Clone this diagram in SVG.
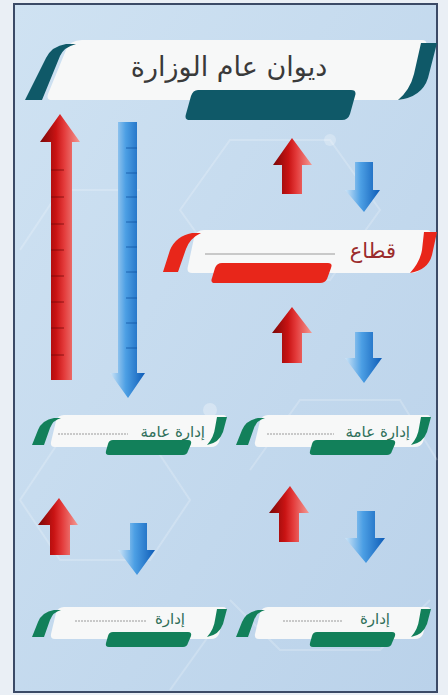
<svg xmlns="http://www.w3.org/2000/svg" xmlns:xlink="http://www.w3.org/1999/xlink" width="448" height="695" viewBox="0 0 448 695">
<style>
.ar{font-family:"DejaVu Sans",sans-serif;}
.title{font-size:27px;fill:#3a3a3a;}
.sec{font-size:21px;fill:#9b2c2c;}
.gtx{font-size:15px;fill:#2f6f5a;}
.wh{fill:#f7f8f8;}
.teal{fill:#0f5968;}
.red{fill:#e8261a;}
.grn{fill:#12805a;}
.hex{fill:none;stroke:#ffffff;stroke-opacity:0.2;stroke-width:2;}
.tickR{stroke:#6a0606;stroke-width:1;stroke-opacity:0.7;}
.tickB{stroke:#0b4f9c;stroke-width:1;stroke-opacity:0.7;}
.dash{stroke:#9a9a9a;stroke-width:1;stroke-dasharray:2 1;}
</style>
<defs>
<linearGradient id="gRed" x1="0" y1="0" x2="1" y2="0">
<stop offset="0" stop-color="#7a0707"/>
<stop offset="0.4" stop-color="#c91313"/>
<stop offset="0.6" stop-color="#e33a3a"/>
<stop offset="1" stop-color="#f39a94"/>
</linearGradient>
<linearGradient id="gBlue" x1="0" y1="0" x2="1" y2="0">
<stop offset="0" stop-color="#cfe5f7"/>
<stop offset="0.45" stop-color="#4c9fe4"/>
<stop offset="1" stop-color="#0e5cb7"/>
</linearGradient>
<linearGradient id="gBg" x1="0" y1="0" x2="1" y2="1">
<stop offset="0" stop-color="#cfe2f2"/>
<stop offset="1" stop-color="#bad2ea"/>
</linearGradient>
<g id="greenBanner">
<path class="wh" d="M 62 415 L 223 415 Q 227 415 226 419 L 219 442 Q 217 447 211 447 L 55 447 Q 50 447 51 442 L 56 421 Q 58 415 64 415 Z"/>
<path class="grn" d="M 32 445 L 44 445 L 50 428 Q 53 420 61 418 L 54 418 Q 42 420 38 430 Z"/>
<path class="grn" d="M 217 417 L 227 417 L 223 432 Q 219 443 207 445 Q 214 437 215 428 Z"/>
<path class="grn" d="M 112 440 L 188 440 Q 192 440 191 444 L 188 451 Q 187 455 183 455 L 109 455 Q 105 455 106 451 L 108 444 Q 109 440 113 440 Z"/>
</g>
</defs>
<rect x="0" y="0" width="448" height="695" fill="#eaeff5"/>
<rect x="14" y="4" width="423" height="688" fill="url(#gBg)" stroke="#3b4a66" stroke-width="2"/>
<g id="background">
<path class="hex" d="M 20 500 L 60 440 L 150 440 L 190 500 L 150 560 L 60 560 Z"/>
<path class="hex" d="M 250 470 L 300 400 L 400 400 L 437 460"/>
<path class="hex" d="M 180 210 L 230 140 L 330 140 L 380 210 L 330 280 L 230 280 Z"/>
<path class="hex" d="M 20 250 L 60 190 L 140 190"/>
<path class="hex" d="M 230 600 L 280 650 L 380 650 L 430 600"/>
<path class="hex" d="M 170 690 L 220 620"/>
<circle cx="210" cy="410" r="7" fill="#ffffff" fill-opacity="0.3"/>
<circle cx="330" cy="140" r="6" fill="#ffffff" fill-opacity="0.25"/>
<circle cx="60" cy="440" r="6" fill="#ffffff" fill-opacity="0.25"/>
</g>
<g id="title">
<path class="wh" d="M 82 40 L 422 40 Q 428 40 426 47 L 410 92 Q 407 100 398 100 L 52 100 Q 46 100 48 94 L 66 50 Q 70 40 82 40 Z"/>
<path class="teal" d="M 25 100 L 42 100 L 60 56 Q 64 47 76 44 L 66 44 Q 52 46 46 58 Z"/>
<path class="teal" d="M 421 43 L 437 43 L 428 78 Q 422 97 398 100 Q 410 90 414 74 Z"/>
<path class="teal" d="M 198 90 L 351 90 Q 357 90 355 96 L 350 114 Q 348 120 342 120 L 190 120 Q 184 120 186 114 L 191 96 Q 193 90 198 90 Z"/>
<text class="ar title" x="229" y="76" text-anchor="middle" direction="rtl">ديوان عام الوزارة</text>
</g>
<g id="sector">
<path class="wh" d="M 204 230 L 427 230 Q 432 230 430 236 L 422 266 Q 420 273 412 273 L 192 273 Q 186 273 188 266 L 194 238 Q 196 230 204 230 Z"/>
<path class="red" d="M 163 272 L 178 272 L 186 249 Q 190 238 201 233 L 192 233 Q 176 236 170 250 Z"/>
<path class="red" d="M 424 232 L 437 232 L 432 255 Q 428 270 410 273 Q 420 262 422 250 Z"/>
<path class="red" d="M 222 263 L 328 263 Q 333 263 331 268 L 327 279 Q 325 283 320 283 L 215 283 Q 210 283 212 278 L 215 268 Q 217 263 222 263 Z"/>
<line x1="205" y1="254" x2="335" y2="254" stroke="#9a9a9a" stroke-width="1"/>
<text class="ar sec" x="396" y="258" text-anchor="end" direction="ltr">قطاع</text>
</g>
<g id="dept1">
<use xlink:href="#greenBanner"/>
<line class="dash" x1="58" y1="434" x2="128" y2="434"/>
<text class="ar gtx" x="205" y="437" text-anchor="end" direction="ltr">إدارة عامة</text>
</g>
<g id="dept2">
<use xlink:href="#greenBanner" transform="translate(204,0)"/>
<line class="dash" x1="267" y1="434" x2="334" y2="434"/>
<text class="ar gtx" x="410" y="437" text-anchor="end" direction="ltr">إدارة عامة</text>
</g>
<g id="unit1">
<use xlink:href="#greenBanner" transform="translate(0,192)"/>
<line class="dash" x1="75" y1="621" x2="147" y2="621"/>
<text class="ar gtx" x="185" y="624" text-anchor="end" direction="ltr">إدارة</text>
</g>
<g id="unit2">
<use xlink:href="#greenBanner" transform="translate(204,192)"/>
<line class="dash" x1="283" y1="621" x2="343" y2="621"/>
<text class="ar gtx" x="390" y="624" text-anchor="end" direction="ltr">إدارة</text>
</g>
<g id="connectors">
<path fill="url(#gRed)" d="M 60 114 L 80 142 L 72 142 L 72 380 L 51 380 L 51 142 L 40 142 Z"/>
<g class="tickR">
<line x1="51" y1="170" x2="64" y2="170"/><line x1="51" y1="197" x2="64" y2="197"/><line x1="51" y1="224" x2="64" y2="224"/><line x1="51" y1="250" x2="64" y2="250"/><line x1="51" y1="276" x2="64" y2="276"/><line x1="51" y1="302" x2="64" y2="302"/><line x1="51" y1="328" x2="64" y2="328"/><line x1="51" y1="355" x2="64" y2="355"/>
</g>
<path fill="url(#gBlue)" d="M 118 122 L 137 122 L 137 373 L 145 373 L 128 398 L 110 373 L 118 373 Z"/>
<g class="tickB">
<line x1="126" y1="148" x2="137" y2="148"/><line x1="126" y1="173" x2="137" y2="173"/><line x1="126" y1="197" x2="137" y2="197"/><line x1="126" y1="222" x2="137" y2="222"/><line x1="126" y1="247" x2="137" y2="247"/><line x1="126" y1="272" x2="137" y2="272"/><line x1="126" y1="298" x2="137" y2="298"/><line x1="126" y1="323" x2="137" y2="323"/><line x1="126" y1="348" x2="137" y2="348"/>
</g>
<path fill="url(#gRed)" d="M 292 138 L 312 165 L 302 165 L 302 194 L 282 194 L 282 165 L 273 165 Z"/>
<path fill="url(#gBlue)" d="M 355 162 L 373 162 L 373 190 L 380 190 L 364 212 L 345 190 L 355 190 Z"/>
<path fill="url(#gRed)" d="M 292 307 L 312 333 L 302 333 L 302 363 L 282 363 L 282 333 L 272 333 Z"/>
<path fill="url(#gBlue)" d="M 355 332 L 373 332 L 373 358 L 382 358 L 364 383 L 345 358 L 355 358 Z"/>
<path fill="url(#gRed)" d="M 59 498 L 78 525 L 70 525 L 70 555 L 50 555 L 50 525 L 38 525 Z"/>
<path fill="url(#gBlue)" d="M 130 523 L 147 523 L 147 550 L 155 550 L 137 575 L 118 550 L 130 550 Z"/>
<path fill="url(#gRed)" d="M 290 486 L 309 513 L 299 513 L 299 542 L 279 542 L 279 513 L 269 513 Z"/>
<path fill="url(#gBlue)" d="M 357 511 L 375 511 L 375 538 L 385 538 L 366 563 L 345 538 L 357 538 Z"/>
</g>
</svg>
